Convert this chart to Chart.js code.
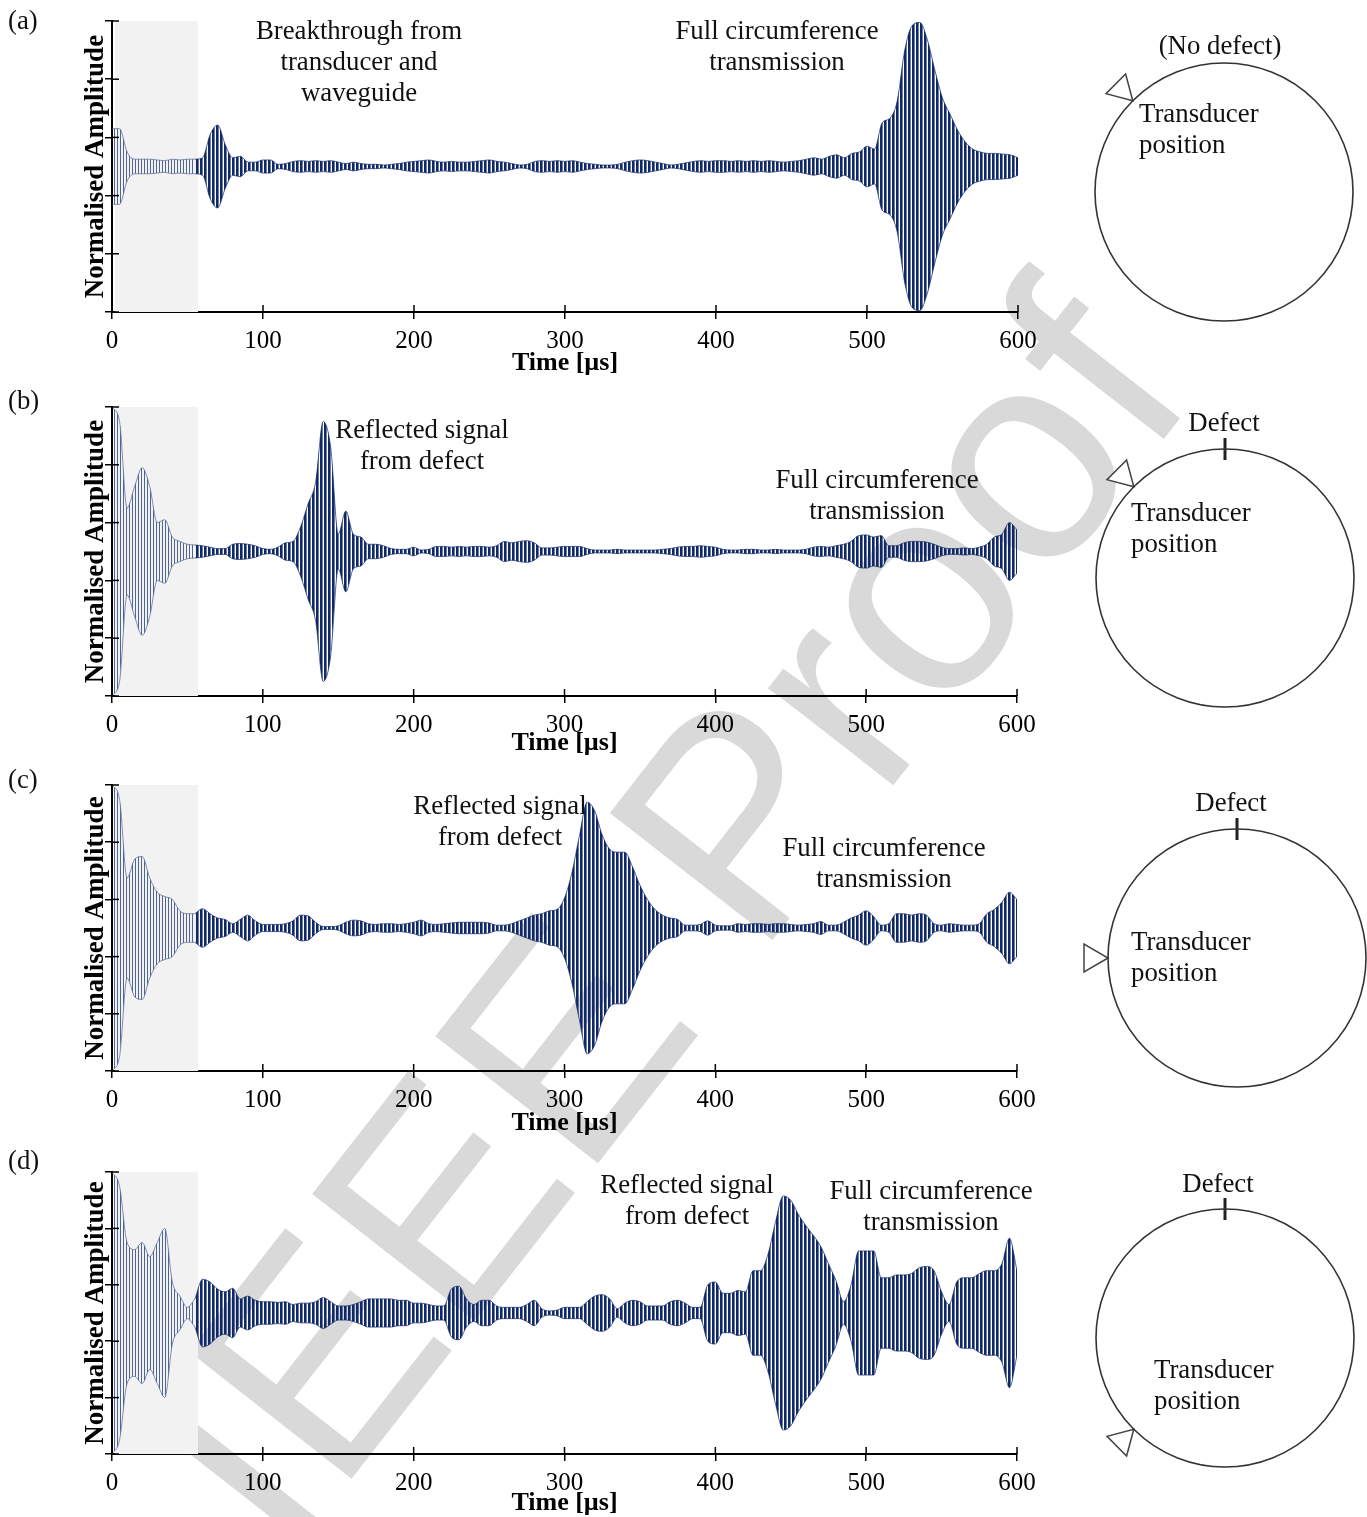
<!DOCTYPE html>
<html><head><meta charset="utf-8">
<script src="https://cdn.jsdelivr.net/npm/chart.js@4.4.1/dist/chart.umd.min.js"></script>
<style>
html,body{margin:0;padding:0;background:#fff;overflow:hidden;}
body{width:1367px;height:1517px;position:relative;font-family:"Liberation Serif","Times New Roman",serif;color:#111;}
.wm{position:absolute;left:660px;top:915px;transform:translate(-50%,-50%) rotate(-52deg);font-family:"Liberation Sans",Arial,sans-serif;font-size:300px;color:#d9d9d9;white-space:nowrap;z-index:0;line-height:1;}
canvas{position:absolute;z-index:1;}
.t{position:absolute;z-index:2;font-size:26.8px;line-height:31px;white-space:nowrap;}
.c{transform:translateX(-50%);text-align:center;}
</style></head><body>
<div class="wm">IEEE Proof</div>
<canvas id="pa" width="1045" height="385" style="left:0;top:0"></canvas>
<canvas id="pb" width="1045" height="379" style="left:0;top:386px"></canvas>
<canvas id="pc" width="1045" height="380" style="left:0;top:765px"></canvas>
<canvas id="pd" width="1045" height="375" style="left:0;top:1150px"></canvas>
<canvas id="ca" width="340" height="340" style="left:1054px;top:22px"></canvas>
<canvas id="cb" width="340" height="340" style="left:1055px;top:408px"></canvas>
<canvas id="cc" width="340" height="340" style="left:1067px;top:788px"></canvas>
<canvas id="cd" width="340" height="340" style="left:1055px;top:1168px"></canvas>

<div class="t" style="left:8px;top:4.5px">(a)</div>
<div class="t" style="left:8px;top:384.5px">(b)</div>
<div class="t" style="left:8px;top:763.5px">(c)</div>
<div class="t" style="left:8px;top:1144.5px">(d)</div>

<div class="t c" style="left:359px;top:14.5px">Breakthrough from<br>transducer and<br>waveguide</div>
<div class="t c" style="left:777px;top:14.5px">Full circumference<br>transmission</div>
<div class="t c" style="left:422px;top:413.5px">Reflected signal<br>from defect</div>
<div class="t c" style="left:877px;top:463.5px">Full circumference<br>transmission</div>
<div class="t c" style="left:500px;top:789.5px">Reflected signal<br>from defect</div>
<div class="t c" style="left:884px;top:831.5px">Full circumference<br>transmission</div>
<div class="t c" style="left:687px;top:1168.5px">Reflected signal<br>from defect</div>
<div class="t c" style="left:931px;top:1174.5px">Full circumference<br>transmission</div>

<div class="t c" style="left:1220px;top:29.5px">(No defect)</div>
<div class="t" style="left:1139px;top:97.5px">Transducer<br>position</div>
<div class="t c" style="left:1224px;top:406.5px">Defect</div>
<div class="t" style="left:1131px;top:496.5px">Transducer<br>position</div>
<div class="t c" style="left:1231px;top:786.5px">Defect</div>
<div class="t" style="left:1131px;top:925.5px">Transducer<br>position</div>
<div class="t c" style="left:1218px;top:1167.5px">Defect</div>
<div class="t" style="left:1154px;top:1353.5px">Transducer<br>position</div>

<script>
// ---------------- DATA ----------------
const times = [0,5,10,15,20,25,30,35,40,45,50,55,60,65,70,75,80,85,90,95,
 100,105,110,115,120,125,130,135,140,145,150,155,160,165,170,175,180,185,190,195,
 200,205,210,215,220,225,230,235,240,245,250,255,260,265,270,275,280,285,290,295,
 300,305,310,315,320,325,330,335,340,345,350,355,360,365,370,375,380,385,390,395,
 400,405,410,415,420,425,430,435,440,445,450,455,460,465,470,475,480,485,490,495,
 500,505,510,515,520,525,530,535,540,545,550,555,560,565,570,575,580,585,590,595,600];

// envelope of the normalised amplitude, panel (a)
const envA = [0.26,0.26,0.10,0.05,0.05,0.05,0.045,0.04,0.05,0.045,
 0.05,0.05,0.06,0.22,0.285,0.15,0.06,0.07,0.03,0.03,
 0.045,0.045,0.015,0.02,0.035,0.04,0.035,0.04,0.035,0.04,
 0.03,0.02,0.03,0.02,0.015,0.015,0.01,0.015,0.02,0.03,
 0.035,0.04,0.045,0.035,0.03,0.035,0.03,0.03,0.035,0.04,
 0.045,0.035,0.03,0.02,0.01,0.015,0.035,0.04,0.035,0.04,
 0.035,0.04,0.03,0.02,0.015,0.01,0.01,0.015,0.03,0.04,
 0.045,0.04,0.03,0.02,0.01,0.015,0.025,0.035,0.04,0.035,
 0.04,0.04,0.035,0.04,0.035,0.04,0.035,0.04,0.035,0.03,
 0.035,0.04,0.05,0.06,0.05,0.07,0.08,0.06,0.09,0.10,
 0.14,0.12,0.30,0.33,0.45,0.80,0.97,0.99,0.87,0.66,
 0.47,0.36,0.25,0.17,0.12,0.10,0.09,0.09,0.085,0.08,0.06];
// panel (b)
const envB = [1.0,0.9,0.3,0.45,0.58,0.45,0.2,0.22,0.1,0.07,
 0.05,0.045,0.04,0.03,0.02,0.02,0.05,0.055,0.05,0.04,
 0.02,0.015,0.03,0.06,0.07,0.17,0.33,0.48,0.9,0.72,
 0.12,0.28,0.12,0.1,0.05,0.05,0.04,0.02,0.015,0.015,
 0.03,0.01,0.015,0.035,0.035,0.03,0.035,0.03,0.035,0.035,
 0.03,0.04,0.07,0.06,0.07,0.075,0.06,0.025,0.025,0.03,
 0.035,0.035,0.035,0.02,0.01,0.01,0.01,0.015,0.01,0.01,
 0.01,0.01,0.01,0.015,0.02,0.03,0.035,0.035,0.04,0.035,
 0.03,0.015,0.01,0.01,0.015,0.015,0.01,0.01,0.015,0.01,
 0.01,0.01,0.015,0.03,0.035,0.03,0.04,0.05,0.07,0.11,
 0.115,0.1,0.11,0.04,0.04,0.06,0.07,0.07,0.065,0.05,
 0.03,0.02,0.02,0.025,0.02,0.03,0.05,0.1,0.12,0.2,0.15];
// panel (c)
const envC = [1.0,0.9,0.35,0.48,0.5,0.35,0.25,0.22,0.2,0.12,
 0.1,0.1,0.135,0.1,0.07,0.06,0.03,0.06,0.09,0.05,
 0.025,0.025,0.025,0.03,0.05,0.09,0.085,0.04,0.01,0.01,
 0.015,0.04,0.055,0.05,0.03,0.025,0.03,0.03,0.025,0.03,
 0.04,0.055,0.03,0.025,0.03,0.035,0.04,0.04,0.04,0.04,
 0.035,0.02,0.02,0.03,0.05,0.07,0.09,0.1,0.12,0.13,
 0.21,0.39,0.65,0.88,0.82,0.65,0.55,0.53,0.53,0.43,
 0.3,0.2,0.13,0.09,0.07,0.06,0.02,0.02,0.025,0.05,
 0.02,0.015,0.015,0.03,0.025,0.03,0.03,0.025,0.03,0.03,
 0.025,0.02,0.025,0.03,0.045,0.02,0.02,0.04,0.07,0.09,
 0.12,0.08,0.02,0.03,0.1,0.1,0.09,0.1,0.09,0.03,
 0.02,0.03,0.025,0.02,0.02,0.03,0.1,0.13,0.18,0.25,0.2];
// panel (d)
const envD = [1.0,0.9,0.5,0.45,0.5,0.4,0.5,0.6,0.22,0.12,
 0.04,0.1,0.24,0.22,0.17,0.15,0.175,0.1,0.12,0.09,
 0.08,0.08,0.075,0.08,0.06,0.07,0.07,0.08,0.11,0.08,
 0.05,0.05,0.06,0.08,0.1,0.1,0.1,0.1,0.09,0.09,
 0.07,0.07,0.06,0.05,0.05,0.17,0.19,0.1,0.06,0.09,
 0.09,0.05,0.04,0.04,0.04,0.06,0.09,0.03,0.015,0.02,
 0.04,0.04,0.04,0.08,0.12,0.13,0.1,0.03,0.07,0.09,
 0.08,0.05,0.05,0.05,0.08,0.09,0.07,0.04,0.04,0.2,
 0.22,0.14,0.14,0.16,0.15,0.3,0.3,0.42,0.65,0.83,
 0.8,0.7,0.62,0.55,0.47,0.35,0.23,0.08,0.2,0.44,
 0.44,0.44,0.25,0.25,0.27,0.27,0.28,0.32,0.33,0.3,
 0.15,0.06,0.22,0.25,0.25,0.28,0.3,0.3,0.35,0.53,0.3];

const xTickVals = [0,100,200,300,400,500,600];
const yTickVals = [-1,-0.6,-0.2,0.2,0.6,1];
const shadeRange = [2, 57];          // grey "breakthrough" window, µs
const lightUntil = 55;               // signal drawn lighter inside window
const transducerAngles = [135,135,180,225];  // degrees on the pipe circle
const defectAngles = [null,90,90,90];

// ---------------- RENDER ----------------
const FONT = 'Liberation Serif';
const NAVY = '#0f2868';
const LIGHT = '#4f6597';

function makePattern(w, lw, color){
  const c = document.createElement('canvas'); c.width = w; c.height = 4;
  const g = c.getContext('2d'); g.fillStyle = color; g.fillRect(0,0,lw,4);
  return g.createPattern(c,'repeat');
}
const darkPat = makePattern(4, 2.6, NAVY);
const lightPat = makePattern(3, 1, LIGHT);

const shadePlugin = {
  id:'shade',
  beforeDatasetsDraw(chart){
    const {ctx, chartArea:a, scales:{x}} = chart;
    ctx.save(); ctx.fillStyle = '#f2f2f2';
    const x0 = x.getPixelForValue(shadeRange[0]), x1 = x.getPixelForValue(shadeRange[1]);
    ctx.fillRect(x0, a.top, x1-x0, a.bottom-a.top);
    ctx.restore();
  }
};
const innerTicks = {
  id:'innerTicks',
  afterDraw(chart){
    const {ctx, chartArea:a, scales:{x,y}} = chart;
    ctx.save(); ctx.strokeStyle = '#000'; ctx.lineWidth = 1.5;
    x.ticks.forEach(t=>{const p=x.getPixelForValue(t.value); ctx.beginPath(); ctx.moveTo(p,a.bottom); ctx.lineTo(p,a.bottom-7); ctx.stroke();});
    y.ticks.forEach(t=>{const p=y.getPixelForValue(t.value); ctx.beginPath(); ctx.moveTo(a.left,p); ctx.lineTo(a.left+7,p); ctx.stroke();});
    ctx.restore();
  }
};

const panels = [
  {id:'pa', env:envA, top:0,    plotTop:21,   plotBottom:312,  bottom:385,  right:1018},
  {id:'pb', env:envB, top:386,  plotTop:407,  plotBottom:696,  bottom:765,  right:1017},
  {id:'pc', env:envC, top:765,  plotTop:785,  plotBottom:1071, bottom:1145, right:1017},
  {id:'pd', env:envD, top:1150, plotTop:1172, plotBottom:1454, bottom:1525, right:1017}
];

panels.forEach(p=>{
  const pts = times.map((t,i)=>({t, e:p.env[i]}));
  const lu = pts.filter(o=>o.t<=lightUntil).map(o=>({x:o.t,y:o.e}));
  const ll = pts.filter(o=>o.t<=lightUntil).map(o=>({x:o.t,y:-o.e}));
  const du = pts.filter(o=>o.t>=lightUntil).map(o=>({x:o.t,y:o.e}));
  const dl = pts.filter(o=>o.t>=lightUntil).map(o=>({x:o.t,y:-o.e}));
  const common = {pointRadius:0, cubicInterpolationMode:'monotone', borderWidth:0.7};
  new Chart(document.getElementById(p.id), {
    type:'line',
    data:{datasets:[
      {...common, data:lu, fill:'+1', backgroundColor:lightPat, borderColor:LIGHT},
      {...common, data:ll, fill:false, borderColor:LIGHT},
      {...common, data:du, fill:'+1', backgroundColor:darkPat, borderColor:NAVY},
      {...common, data:dl, fill:false, borderColor:NAVY}
    ]},
    options:{
      responsive:false, animation:false, devicePixelRatio:1,
      layout:{padding:{left:0, right:1045-p.right, top:p.plotTop-p.top, bottom:0}},
      plugins:{legend:{display:false}, tooltip:{enabled:false}},
      scales:{
        x:{type:'linear', min:0, max:600,
          afterBuildTicks:s=>{s.ticks = xTickVals.map(v=>({value:v}));},
          afterFit:s=>{s.height = p.bottom - p.plotBottom;},
          grid:{display:true, drawOnChartArea:false, drawTicks:true, tickLength:7, color:'#000', lineWidth:1.5},
          border:{display:true, color:'#000', width:2},
          ticks:{color:'#000', font:{family:FONT, size:25}, padding:7, maxRotation:0, autoSkip:false},
          title:{display:true, text:'Time [µs]', color:'#000', font:{family:FONT, size:26, weight:'bold'}, padding:{top:0, bottom:6.4}}
        },
        y:{type:'linear', min:-1, max:1,
          afterBuildTicks:s=>{s.ticks = yTickVals.map(v=>({value:v}));},
          afterFit:s=>{s.width = 112;},
          grid:{display:true, drawOnChartArea:false, drawTicks:true, tickLength:7, color:'#000', lineWidth:1.5},
          border:{display:true, color:'#000', width:2},
          ticks:{display:false},
          title:{display:true, text:'Normalised Amplitude', color:'#000', font:{family:FONT, size:27, weight:'bold'}, padding:{top:80, bottom:0}}
        }
      }
    },
    plugins:[shadePlugin, innerTicks]
  });
});

// pipe cross-section diagrams
const circlePx = 129, S = 340, R = (S/2)/circlePx, triR = 16/circlePx, defR = 11/circlePx;
const unit = c => c.scales.x.getPixelForValue(1) - c.scales.x.getPixelForValue(0);
['ca','cb','cc','cd'].forEach((id,k)=>{
  const th = transducerAngles[k]*Math.PI/180;
  const rot = Math.atan2(-Math.cos(th), -Math.sin(th))*180/Math.PI;
  const ds = [
    {data:[{x:0,y:0}], pointStyle:'circle', pointRadius:c=>unit(c.chart), pointBorderColor:'#333', pointBorderWidth:1.6, pointBackgroundColor:'rgba(0,0,0,0)'},
    {data:[{x:(1+triR)*Math.cos(th), y:(1+triR)*Math.sin(th)}], pointStyle:'triangle', pointRotation:rot, pointRadius:c=>triR*unit(c.chart), pointBorderColor:'#444', pointBorderWidth:1.5, pointBackgroundColor:'#fff'}
  ];
  if (defectAngles[k] !== null) {
    const dth = defectAngles[k]*Math.PI/180;
    ds.push({data:[{x:Math.cos(dth), y:Math.sin(dth)}], pointStyle:'line', pointRotation:90, pointRadius:c=>defR*unit(c.chart), pointBorderColor:'#222', pointBorderWidth:3});
  }
  ds.forEach(d=>{d.clip=false;});
  new Chart(document.getElementById(id), {
    type:'scatter',
    data:{datasets:ds},
    options:{responsive:false, animation:false, devicePixelRatio:1,
      layout:{padding:0},
      plugins:{legend:{display:false}, tooltip:{enabled:false}},
      scales:{x:{type:'linear', display:false, min:-R, max:R}, y:{type:'linear', display:false, min:-R, max:R}}
    }
  });
});
</script>
</body></html>
